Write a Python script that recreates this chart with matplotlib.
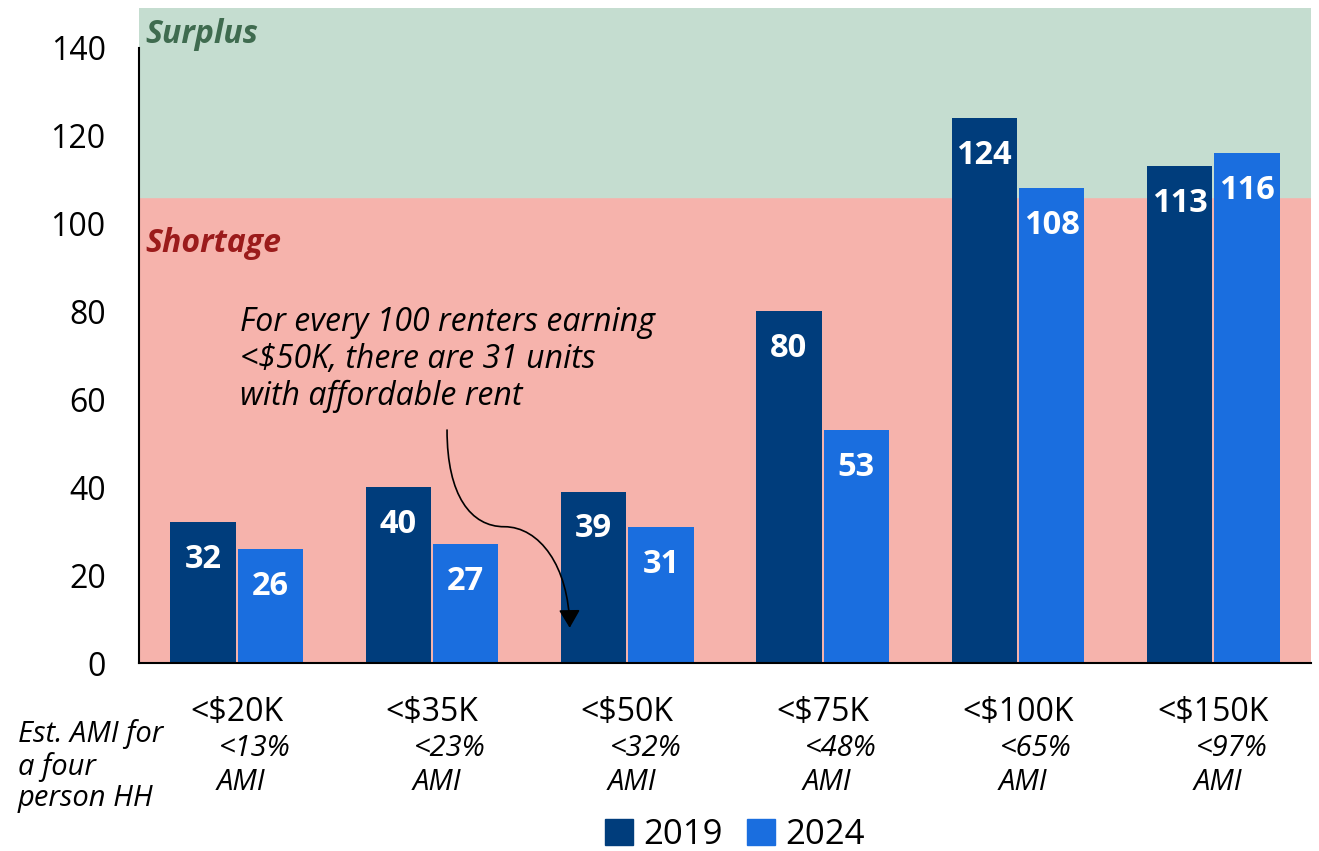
import matplotlib.pyplot as plt
from matplotlib.path import Path
from matplotlib.patches import FancyArrowPatch, Patch
import numpy as np

plt.rcParams['font.family'] = ['Open Sans', 'DejaVu Sans']

# data
incomes = ['<$20K', '<$35K', '<$50K', '<$75K', '<$100K', '<$150K']
ami = ['<13%', '<23%', '<32%', '<48%', '<65%', '<97%']
v2019 = [32, 40, 39, 80, 124, 113]
v2024 = [26, 27, 31, 53, 108, 116]
threshold = 106

navy = '#003D7C'
blue = '#1A6EDF'

fig = plt.figure(figsize=(13.19, 8.51), dpi=100)
ax = fig.add_axes([139/1319, 1 - 663/851, 1172/1319, 655/851])

ax.axhspan(0, threshold, color='#F6B3AC', zorder=0)
ax.axhspan(threshold, 149, color='#C5DDD0', zorder=0)

x = np.arange(len(incomes))
w = 0.335
b1 = ax.bar(x - w/2 - 0.005, v2019, w, color=navy, zorder=2)
b2 = ax.bar(x + w/2 + 0.005, v2024, w, color=blue, zorder=2)

for bars, vals in [(b1, v2019), (b2, v2024)]:
    for r, v in zip(bars, vals):
        ax.text(r.get_x() + r.get_width()/2, v - 8.5, str(v), ha='center', va='center',
                color='white', fontsize=23.5, fontweight='bold', zorder=3)

ax.set_xlim(-0.5, 5.5)
ax.set_ylim(0, 149)
ax.set_yticks(range(0, 141, 20))
ax.tick_params(axis='y', length=0, labelsize=23, pad=24)
ax.set_xticks([])
for s in ['top', 'right']:
    ax.spines[s].set_visible(False)
ax.spines['left'].set_bounds(0, 140)
ax.spines['left'].set_linewidth(1.5)
ax.spines['bottom'].set_linewidth(1.5)

ax.text(0.005, 143, 'Surplus', transform=ax.get_yaxis_transform(), color='#3F6B4F',
        fontsize=23, fontweight='bold', style='italic', va='center')
ax.text(0.005, 95.5, 'Shortage', transform=ax.get_yaxis_transform(), color='#9B1B1B',
        fontsize=23, fontweight='bold', style='italic', va='center')

ax.text(0.017, 69, 'For every 100 renters earning\n<$50K, there are 31 units\nwith affordable rent',
        fontsize=23, style='italic', va='center', ha='left', linespacing=1.15, zorder=3)

# curved arrow
p0 = (1.077, 53)
pm = (1.37, 31)
p1 = (1.705, 8)
verts = [p0, (1.077, 38), (1.2, 31), pm, (1.55, 31), (1.7, 22), p1]
codes = [Path.MOVETO, Path.CURVE4, Path.CURVE4, Path.CURVE4, Path.CURVE4, Path.CURVE4, Path.CURVE4]
arrow = FancyArrowPatch(path=Path(verts, codes), arrowstyle='-|>,head_length=11,head_width=6.5',
                        color='black', lw=1.2, zorder=4)
ax.add_patch(arrow)

tr = ax.get_xaxis_transform()
for i in x:
    ax.text(i, -0.075, incomes[i], transform=tr, ha='center', va='center', fontsize=23)
    ax.text(i - 0.09, -0.13, ami[i], transform=tr, ha='left', va='center',
            fontsize=21, style='italic')
    ax.text(i - 0.1, -0.182, 'AMI', transform=tr, ha='left', va='center',
            fontsize=21, style='italic')

fig.text(18/1319, 1 - 766/851, 'Est. AMI for\na four\nperson HH', ha='left', va='center',
         fontsize=21, style='italic', linespacing=1.1)

handles = [Patch(color=navy, label='2019'), Patch(color=blue, label='2024')]
fig.legend(handles=handles, loc='center', bbox_to_anchor=(735/1319, 1 - 835/851), ncol=2,
           frameon=False, fontsize=25, handlelength=0.8, handleheight=0.8,
           handletextpad=0.3, columnspacing=0.7)

fig.savefig('out.png', dpi=100)
